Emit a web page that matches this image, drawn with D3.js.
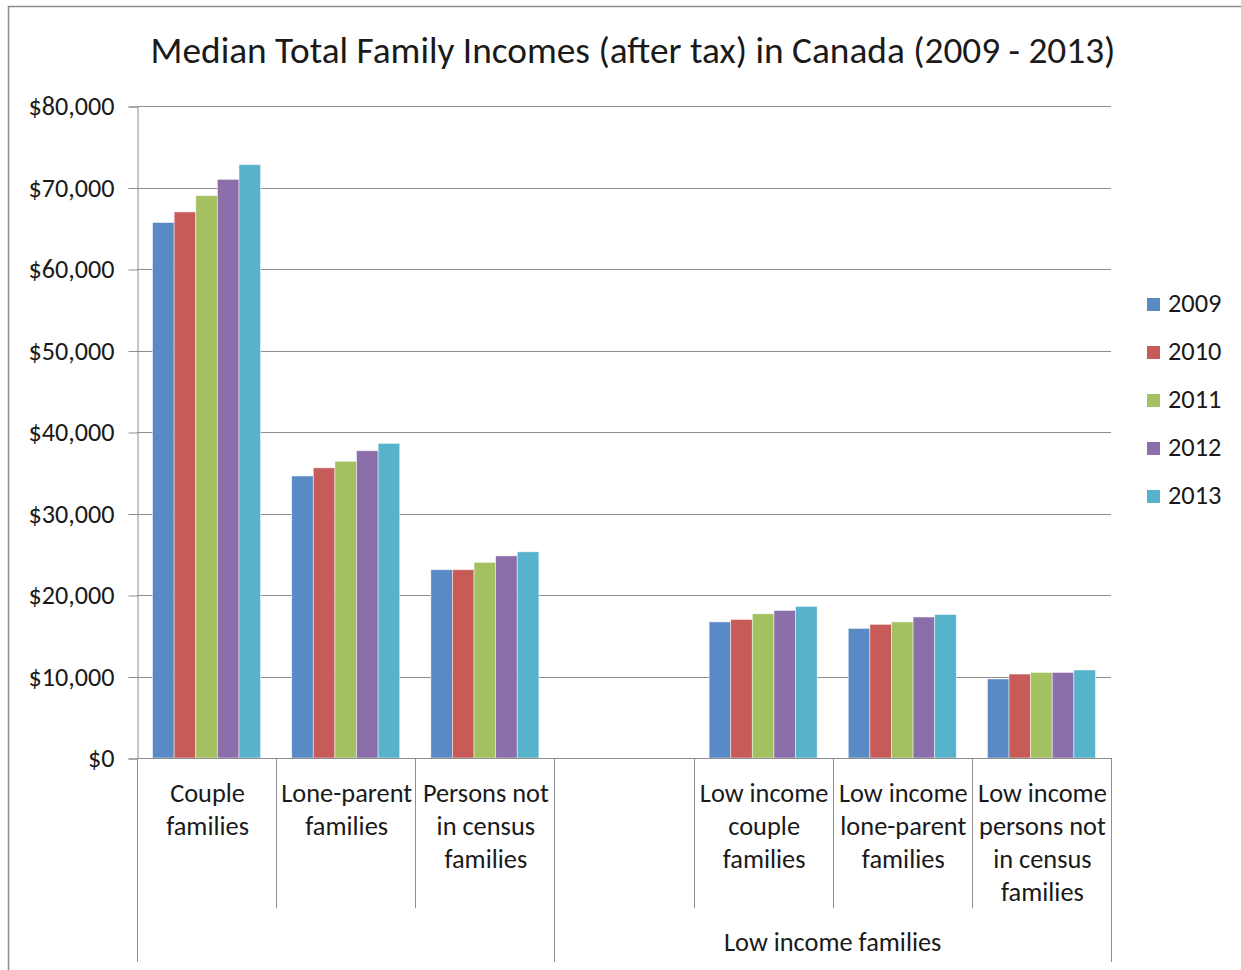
<!DOCTYPE html>
<html>
<head>
<meta charset="utf-8">
<script src="https://cdn.jsdelivr.net/npm/d3@7"></script>
<style>
  html, body { margin: 0; padding: 0; background: #fff; }
  svg { display: block; }
  text { font-family: Carlito, Calibri, Lato, "Open Sans", sans-serif; fill: #1a1a1a; }
</style>
</head>
<body>
<svg id="chart" width="1241" height="970"></svg>
<script>
// ---- Data ----
const title = "Median Total Family Incomes (after tax) in Canada (2009 - 2013)";
const categories = ["Couple families", "Lone-parent families", "Persons not in census families", "",
  "Low income couple families", "Low income lone-parent families", "Low income persons not in census families"];
const categoryLines = [
  ["Couple", "families"],
  ["Lone-parent", "families"],
  ["Persons not", "in census", "families"],
  [],
  ["Low income", "couple", "families"],
  ["Low income", "lone-parent", "families"],
  ["Low income", "persons not", "in census", "families"]
];
const groupNames = ["", "Low income families"];
const groupSpans = [[0, 3], [3, 7]]; // category index ranges [start, end)
const years = ["2009", "2010", "2011", "2012", "2013"];
const values2009 = [65700, 34600, 23100, null, 16700, 15900, 9700];
const values2010 = [67000, 35600, 23100, null, 17000, 16400, 10300];
const values2011 = [69000, 36400, 24000, null, 17700, 16700, 10500];
const values2012 = [71000, 37700, 24800, null, 18100, 17300, 10500];
const values2013 = [72800, 38600, 25300, null, 18600, 17600, 10800];
const seriesValues = [values2009, values2010, values2011, values2012, values2013];
const colors = ["#5a8ac6", "#c75b58", "#a4c162", "#8a6fab", "#57b3cc"];
const yTicks = [0, 10000, 20000, 30000, 40000, 50000, 60000, 70000, 80000];

(function () {
// ---- Layout ----
const svg = d3.select("#chart");
const pLeft = 137, pRight = 1111, pTop = 106, pBottom = 758;

// outer border
svg.append("rect").attr("x", 8.5).attr("y", 6.5).attr("width", 1300).attr("height", 1100)
  .attr("fill", "none").attr("stroke", "#8c8c8c").attr("stroke-width", 1.5);

const x = d3.scaleBand().domain(d3.range(categories.length)).range([pLeft, pRight]).padding(0);
const xi = d3.scaleBand().domain(years).range([0, x.bandwidth()]).paddingInner(0).paddingOuter(0.72);
const y = d3.scaleLinear().domain([0, 80000]).range([pBottom, pTop]);

// title
const t = svg.append("text").attr("x", 633).attr("y", 63).attr("text-anchor", "middle")
  .style("font-size", "30px").text(title);
const tw = t.node().getComputedTextLength();
t.style("font-size", (30 * 965 / tw).toFixed(2) + "px");

// gridlines
svg.append("g").selectAll("line").data(yTicks.filter(d => d > 0)).join("line")
  .attr("x1", pLeft).attr("x2", pRight)
  .attr("y1", d => Math.round(y(d)) + 0.5).attr("y2", d => Math.round(y(d)) + 0.5)
  .attr("stroke", "#8e8e8e").attr("stroke-width", 1);

// y axis
const yAxis = d3.axisLeft(y).tickValues(yTicks).tickSize(9).tickPadding(14)
  .tickFormat(d => "$" + d3.format(",")(d));
const gy = svg.append("g").attr("transform", `translate(${pLeft + 0.5},0.5)`).call(yAxis);
gy.select(".domain").attr("stroke", "#8e8e8e");
gy.selectAll(".tick line").attr("stroke", "#8e8e8e");
gy.selectAll(".tick text").style("font-size", "22px").attr("fill", "#1a1a1a")
  .style("font-family", "Carlito, Calibri, Lato, 'Open Sans', sans-serif");
{
  const node = gy.selectAll(".tick text").filter(d => d === 80000).node();
  const w = node.getComputedTextLength();
  gy.selectAll(".tick text").style("font-size", (22 * 86 / w).toFixed(2) + "px");
}

// bars
const bars = svg.append("g");
seriesValues.forEach((vals, si) => {
  bars.append("g").selectAll("rect")
    .data(vals.map((v, ci) => ({ v, ci })).filter(d => d.v !== null))
    .join("rect")
    .attr("x", d => x(d.ci) + xi(years[si]))
    .attr("width", xi.bandwidth())
    .attr("y", d => y(d.v))
    .attr("height", d => y(0) - y(d.v))
    .attr("fill", colors[si])
    .attr("stroke", "#ffffff").attr("stroke-opacity", 0.6).attr("stroke-width", 0.8);
});

// x axis line
svg.append("line").attr("x1", pLeft).attr("x2", pRight).attr("y1", pBottom + 0.5).attr("y2", pBottom + 0.5)
  .attr("stroke", "#8e8e8e");

// category separators
const boundaries = d3.range(categories.length + 1);
const outerBounds = new Set([0, 3, 7]);
svg.append("g").selectAll("line").data(boundaries).join("line")
  .attr("x1", i => Math.round(i < categories.length ? x(i) : pRight) + 0.5)
  .attr("x2", i => Math.round(i < categories.length ? x(i) : pRight) + 0.5)
  .attr("y1", pBottom)
  .attr("y2", i => outerBounds.has(i) ? 962 : 908)
  .attr("stroke", "#8e8e8e");

// category labels
const catG = svg.append("g");
categoryLines.forEach((lines, ci) => {
  lines.forEach((ln, li) => {
    catG.append("text").attr("x", x(ci) + x.bandwidth() / 2 + 1).attr("y", 802 + li * 33)
      .attr("text-anchor", "middle").style("font-size", "22px").text(ln);
  });
});
let catSize = "22px";
{
  const node = catG.selectAll("text").filter(function () { return this.textContent === "Lone-parent"; }).node();
  const w = node.getComputedTextLength();
  catSize = (22 * 131 / w).toFixed(2) + "px";
  catG.selectAll("text").style("font-size", catSize);
}

// group labels
groupNames.forEach((g, gi) => {
  if (!g) return;
  const [s, e] = groupSpans[gi];
  const x0 = x(s), x1 = e < categories.length ? x(e) : pRight;
  svg.append("text").attr("x", (x0 + x1) / 2).attr("y", 951).attr("text-anchor", "middle")
    .style("font-size", catSize).text(g);
});

// legend
const lg = svg.append("g");
years.forEach((yr, i) => {
  const cy = 304 + i * 48;
  lg.append("rect").attr("x", 1147).attr("y", cy - 6).attr("width", 13).attr("height", 13).attr("fill", colors[i]);
  lg.append("text").attr("x", 1168).attr("y", cy + 8).style("font-size", catSize).text(yr);
});
})();
</script>
</body>
</html>
